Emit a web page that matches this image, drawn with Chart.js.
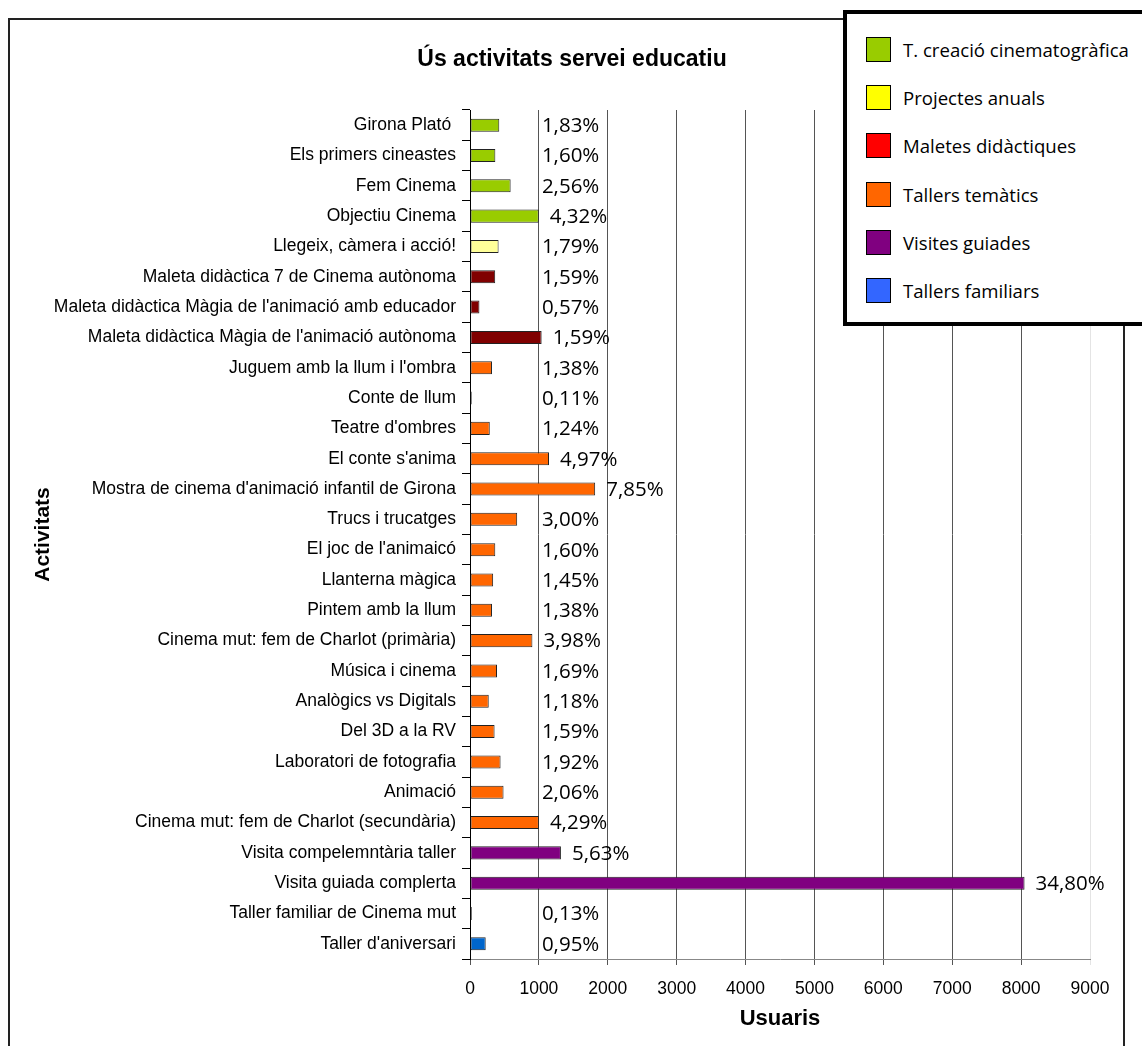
<!DOCTYPE html>
<html>
<head>
<meta charset="utf-8">
<script src="https://cdn.jsdelivr.net/npm/chart.js@4/dist/chart.umd.min.js"></script>
<style>
  body { margin: 0; background: #fff; }
  #wrap { position: relative; width: 1142px; height: 1046px; overflow: hidden; }
  #frame { position: absolute; left: 8px; top: 18px; width: 1117px; height: 1060px; border: 2px solid #222; box-sizing: border-box; }
  #chart { position: absolute; left: 0; top: 0; }
  #legend { position: absolute; left: 843px; top: 10px; width: 304px; height: 316px; border: 4px solid #000; box-sizing: border-box; background: #fff; padding-top: 11px; }
  .item { height: 48.3px; display: flex; align-items: center; font: 18.6px "Open Sans", sans-serif; color: #000; }
  .sw { width: 23px; height: 23px; border: 1.5px solid #000; margin-left: 19px; margin-right: 12px; flex: none; }
</style>
</head>
<body>
<div id="wrap">
  <div id="frame"></div>
  <canvas id="chart" width="1142" height="1046"></canvas>
  <div id="legend"></div>
</div>
<script>
// activitats (de dalt a baix)
const categories = [
  'Girona Plató ', 'Els primers cineastes', 'Fem Cinema', 'Objectiu Cinema',
  'Llegeix, càmera i acció!', 'Maleta didàctica 7 de Cinema autònoma',
  "Maleta didàctica Màgia de l'animació amb educador", "Maleta didàctica Màgia de l'animació autònoma",
  "Juguem amb la llum i l'ombra", 'Conte de llum', "Teatre d'ombres", "El conte s'anima",
  "Mostra de cinema d'animació infantil de Girona", 'Trucs i trucatges', "El joc de l'animaicó",
  'Llanterna màgica', 'Pintem amb la llum', 'Cinema mut: fem de Charlot (primària)',
  'Música i cinema', 'Analògics vs Digitals', 'Del 3D a la RV', 'Laboratori de fotografia',
  'Animació', 'Cinema mut: fem de Charlot (secundària)', 'Visita compelemntària taller',
  'Visita guiada complerta', 'Taller familiar de Cinema mut', "Taller d'aniversari"
];
// usuaris per activitat
const users = [
  425, 368, 590, 998, 415, 366, 137, 1040, 319, 25, 287, 1147, 1817, 685, 367,
  336, 319, 906, 392, 272, 357, 444, 487, 1000, 1320, 8050, 26, 228
];
// etiquetes de percentatge
const pctLabels = [
  '1,83%', '1,60%', '2,56%', '4,32%', '1,79%', '1,59%', '0,57%', '1,59%', '1,38%', '0,11%',
  '1,24%', '4,97%', '7,85%', '3,00%', '1,60%', '1,45%', '1,38%', '3,98%', '1,69%', '1,18%',
  '1,59%', '1,92%', '2,06%', '4,29%', '5,63%', '34,80%', '0,13%', '0,95%'
];
// grup de cada activitat (índex a groups)
const groupOf = [0, 0, 0, 0, 1, 2, 2, 2, 3, 3, 3, 3, 3, 3, 3, 3, 3, 3, 3, 3, 3, 3, 3, 3, 4, 4, 5, 5];
const groups = ['T. creació cinematogràfica', 'Projectes anuals', 'Maletes didàctiques', 'Tallers temàtics', 'Visites guiades', 'Tallers familiars'];
const barColors = ['#99CC00', '#FFFF99', '#800000', '#FF6600', '#800080', '#0066CC'];
const legendColors = ['#99CC00', '#FFFF00', '#FF0000', '#FF6600', '#800080', '#3366FF'];
const xTicks = [0, 1000, 2000, 3000, 4000, 5000, 6000, 7000, 8000, 9000];

const datasets = groups.map((g, gi) => ({
  label: g,
  data: users.map((v, i) => groupOf[i] === gi ? v : null),
  backgroundColor: barColors[gi],
  borderColor: '#222',
  borderWidth: 1,
  borderSkipped: false,
  grouped: false,
  barPercentage: 0.43,
  categoryPercentage: 1
}));

// llegenda
const leg = document.getElementById('legend');
groups.forEach((g, gi) => {
  const d = document.createElement('div');
  d.className = 'item';
  d.innerHTML = '<span class="sw" style="background:' + legendColors[gi] + '"></span><span>' + g + '</span>';
  leg.appendChild(d);
});

const extras = {
  id: 'extras',
  afterDatasetsDraw(chart) {
    const ctx = chart.ctx;
    const xs = chart.scales.x;
    const minX = xs.getPixelForValue(1000) + 3;
    ctx.save();
    ctx.fillStyle = '#000';
    ctx.font = '20.5px "Open Sans", sans-serif';
    ctx.textAlign = 'left';
    ctx.textBaseline = 'middle';
    categories.forEach((c, i) => {
      const bar = chart.getDatasetMeta(groupOf[i]).data[i];
      const x = Math.max(bar.x + 11, minX);
      ctx.fillText(pctLabels[i], x, bar.y + 1);
    });
    // títol
    ctx.font = 'bold 23px "Liberation Sans", Arial, sans-serif';
    ctx.textAlign = 'center';
    ctx.fillText('Ús activitats servei educatiu', 572, 60);
    ctx.restore();
  }
};

new Chart(document.getElementById('chart'), {
  type: 'bar',
  data: { labels: categories, datasets: datasets },
  plugins: [extras],
  options: {
    indexAxis: 'y',
    responsive: false,
    animation: false,
    layout: { padding: { left: 0, top: 110, right: 52, bottom: 14 } },
    plugins: { legend: { display: false }, title: { display: false }, tooltip: { enabled: false } },
    scales: {
      x: {
        min: 0, max: 9000,
        afterBuildTicks: s => { s.ticks = xTicks.map(v => ({ value: v })); },
        afterFit: s => { s.height = 73; },
        ticks: { color: '#000', padding: 14, callback: v => String(v),
          font: { family: '"Liberation Sans", Arial', size: 17.5 } },
        grid: {
          color: ctx => ctx.tick && ctx.tick.value === 9000 ? '#e4e4e4' : '#555',
          tickLength: 6, lineWidth: 1
        },
        border: { color: '#888' },
        title: { display: true, text: 'Usuaris', color: '#000', padding: { top: 0, bottom: 0 },
          font: { family: '"Liberation Sans", Arial', size: 22, weight: 'bold' } }
      },
      y: {
        afterFit: s => { s.width = 470; },
        ticks: { color: '#000', padding: 6, autoSkip: false, font: { family: '"Liberation Sans", Arial', size: 17.5 } },
        grid: { drawOnChartArea: false, offset: true, tickLength: 8, color: '#000' },
        border: { color: '#000' },
        title: { display: true, text: 'Activitats', color: '#000', padding: { top: 31, bottom: 0 },
          font: { family: '"Liberation Sans", Arial', size: 21, weight: 'bold' } }
      }
    }
  }
});
</script>
</body>
</html>
